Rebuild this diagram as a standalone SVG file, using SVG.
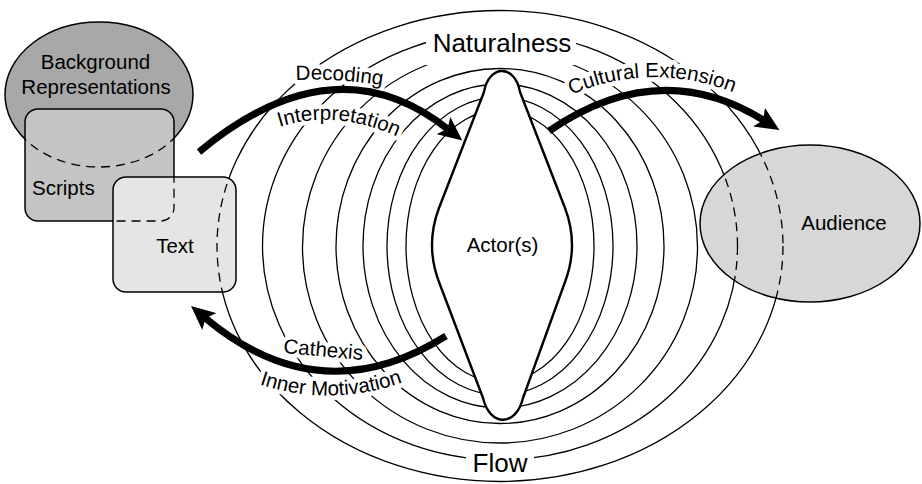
<svg xmlns="http://www.w3.org/2000/svg" width="922" height="484" viewBox="0 0 922 484">
<style>
  text { font-family: "Liberation Sans", Arial, Helvetica, sans-serif; fill: #000; }
  .lbl { font-size: 20.5px; }
  .big { font-size: 26px; }
  .halo text { fill: #fff; stroke: #fff; stroke-width: 9; stroke-linejoin: round; }
  .ring { fill: none; stroke: #000; stroke-width: 1.3; }
  .dash { fill: none; stroke: #000; stroke-width: 1.3; stroke-dasharray: 9 6; }
  .shape { stroke: #000; stroke-width: 1.5; }
  .arrow { fill: none; stroke: #000; stroke-width: 7; marker-end: url(#head); }
</style>
<defs>
  <marker id="head" markerUnits="userSpaceOnUse" markerWidth="24" markerHeight="22" viewBox="0 0 24 22" refX="7" refY="11" orient="auto">
    <path d="M0,0 L24,11 L0,22 L5,11 Z" fill="#000"/>
  </marker>
  <clipPath id="clipScripts"><rect x="25" y="109" width="149" height="112" rx="13"/></clipPath>
  <clipPath id="clipText"><rect x="113" y="177" width="123" height="115" rx="13"/></clipPath>
  <clipPath id="clipAud"><ellipse cx="810" cy="223.5" rx="110" ry="78.5"/></clipPath>
  <path id="pDecoding" d="M 286,80.5 Q 338,77 392,87"/>
  <path id="pInterp" d="M 268,131 Q 335,104 408,142"/>
  <path id="pCultural" d="M 560,100 Q 650,56 745,97"/>
  <path id="pCathexis" d="M 272,352 Q 320,356 374,361"/>
  <path id="pInner" d="M 248,380 Q 330,412 414,378"/>
</defs>

<!-- concentric rings -->
<g id="rings">
  <ellipse class="ring" cx="500" cy="246" rx="283" ry="235.5"/>
  <ellipse class="ring" cx="500" cy="246" rx="237.5" ry="214"/>
  <ellipse class="ring" cx="500" cy="247" rx="197.5" ry="196"/>
  <ellipse class="ring" cx="500" cy="246" rx="164" ry="177.5"/>
  <ellipse class="ring" cx="500" cy="246" rx="137" ry="162"/>
  <ellipse class="ring" cx="500" cy="246" rx="113" ry="149"/>
  <ellipse class="ring" cx="500" cy="246" rx="94" ry="136"/>
</g>

<!-- ring labels -->
<g id="ring-labels">
  <rect x="426" y="26" width="150" height="39" fill="#fff"/>
  <text class="big" x="502" y="52" text-anchor="middle">Naturalness</text>
  <rect x="466" y="446" width="68" height="31" fill="#fff"/>
  <text class="big" x="500" y="472" text-anchor="middle">Flow</text>
</g>

<!-- actor -->
<g id="node-actor">
  <path d="M 484,92 C 489,64 515,64 520,92 L 565,208 Q 579,245 565,282 L 523,398 C 516,427 490,427 483,398 L 439,282 Q 425,245 439,208 Z" fill="#fff" stroke="#000" stroke-width="2.4" stroke-linejoin="round"/>
  <text class="lbl" x="502.5" y="252" text-anchor="middle">Actor(s)</text>
</g>

<!-- left cluster -->
<g id="node-background">
  <ellipse class="shape" cx="99" cy="94.5" rx="94" ry="72.5" fill="#a8a8a8"/>
  <text class="lbl" x="95.5" y="69" text-anchor="middle">Background</text>
  <text class="lbl" x="96" y="94" text-anchor="middle">Representations</text>
</g>
<g id="node-scripts">
  <rect class="shape" x="25" y="109" width="149" height="112" rx="13" fill="#c4c4c4"/>
  <ellipse class="dash" cx="99" cy="94.5" rx="94" ry="72.5" clip-path="url(#clipScripts)"/>
  <text class="lbl" x="32" y="195">Scripts</text>
</g>
<g id="node-text">
  <rect class="shape" x="113" y="177" width="123" height="115" rx="13" fill="#e5e5e5"/>
  <rect class="dash" x="25" y="109" width="149" height="112" rx="13" clip-path="url(#clipText)"/>
  <ellipse class="dash" cx="500" cy="246" rx="283" ry="235.5" clip-path="url(#clipText)"/>
  <text class="lbl" x="175" y="253" text-anchor="middle">Text</text>
</g>

<!-- audience -->
<g id="node-audience">
  <ellipse class="shape" cx="810" cy="223.5" rx="110" ry="78.5" fill="#d7d7d7"/>
  <g clip-path="url(#clipAud)">
    <ellipse class="dash" cx="500" cy="246" rx="283" ry="235.5"/>
    <ellipse class="dash" cx="500" cy="246" rx="237.5" ry="214"/>
  </g>
  <text class="lbl" x="844" y="230" text-anchor="middle">Audience</text>
</g>

<!-- connector labels: white knock-out first, then the black text -->
<g id="arrow-label-halos" class="lbl halo">
  <text><textPath href="#pDecoding" startOffset="50%" text-anchor="middle">Decoding</textPath></text>
  <text><textPath href="#pInterp" startOffset="50%" text-anchor="middle">Interpretation</textPath></text>
  <text><textPath href="#pCultural" startOffset="50%" text-anchor="middle">Cultural Extension</textPath></text>
  <text><textPath href="#pCathexis" startOffset="50%" text-anchor="middle">Cathexis</textPath></text>
  <text><textPath href="#pInner" startOffset="50%" text-anchor="middle">Inner Motivation</textPath></text>
</g>
<g id="arrow-labels" class="lbl">
  <text><textPath href="#pDecoding" startOffset="50%" text-anchor="middle">Decoding</textPath></text>
  <text><textPath href="#pInterp" startOffset="50%" text-anchor="middle">Interpretation</textPath></text>
  <text><textPath href="#pCultural" startOffset="50%" text-anchor="middle">Cultural Extension</textPath></text>
  <text><textPath href="#pCathexis" startOffset="50%" text-anchor="middle">Cathexis</textPath></text>
  <text><textPath href="#pInner" startOffset="50%" text-anchor="middle">Inner Motivation</textPath></text>
</g>

<!-- connectors -->
<g id="connectors">
  <path class="arrow" d="M 199,152 Q 335,39 449,130"/>
  <path class="arrow" d="M 549,131 Q 660,55 765,121"/>
  <path class="arrow" d="M 446,336 Q 320,415 204,317"/>
</g>
</svg>
